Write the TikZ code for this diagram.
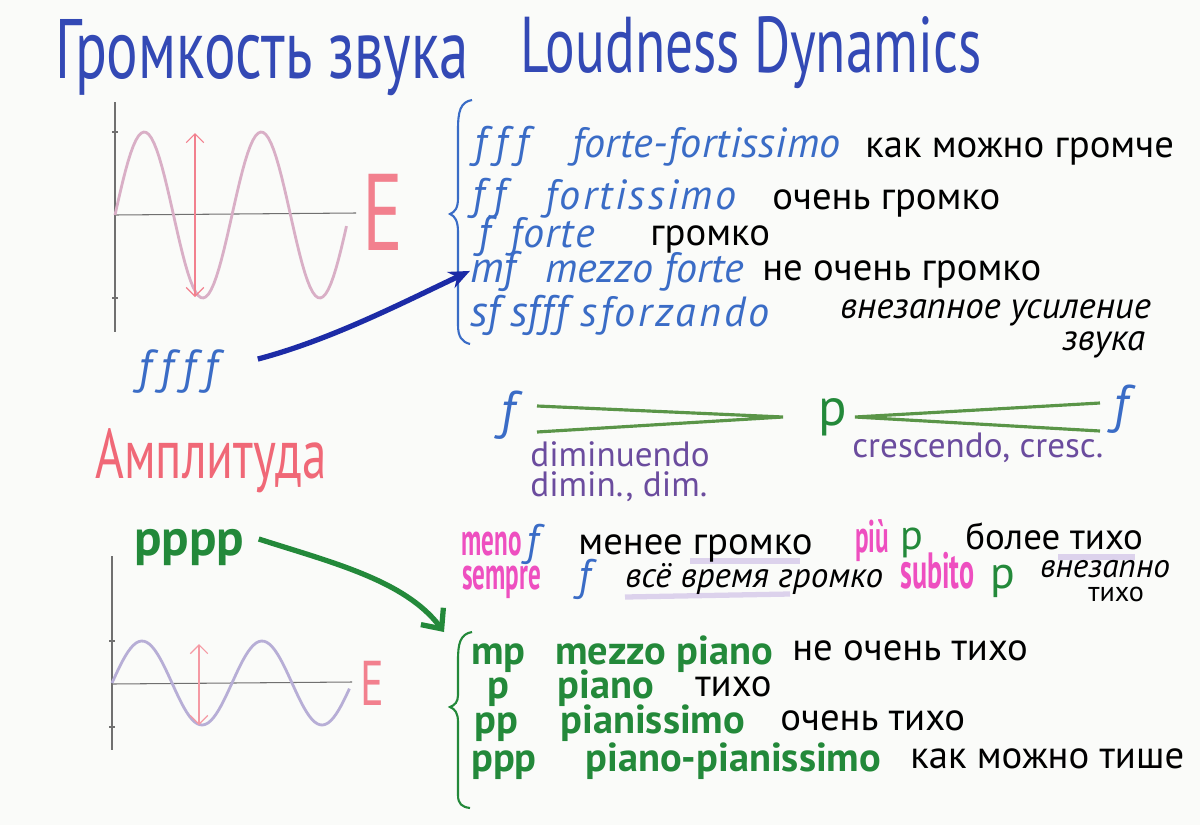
\documentclass[tikz,border=0pt]{standalone}
\usepackage{fontspec}
\setmainfont{PT Sans}
\newfontfamily\headfont{PT Sans}[FakeStretch=0.7]
\newfontfamily\magfont{PT Sans}[FakeStretch=0.55]
\usetikzlibrary{arrows.meta,positioning}

\definecolor{paper}{HTML}{FAFBF9}
\definecolor{inkblue}{HTML}{3349B5}
\definecolor{fblue}{HTML}{3A6CC6}
\definecolor{arrowblue}{HTML}{1C2BA6}
\definecolor{rosy}{HTML}{F2808E}
\definecolor{redpink}{HTML}{F06877}
\definecolor{inkgreen}{HTML}{23893A}
\definecolor{hairgreen}{HTML}{5A9548}
\definecolor{violet}{HTML}{6B4C9E}
\definecolor{mag}{HTML}{EE4FC0}
\definecolor{axisgray}{HTML}{707070}
\definecolor{wavepink}{HTML}{D9AFC6}
\definecolor{wavelilac}{HTML}{B7AED6}
\definecolor{lilac}{HTML}{C9B8E4}

% spaced f's
\newcommand\fsp{\kern5pt}

\tikzset{
  txt/.style={anchor=base west, inner sep=0pt, text=black, font=\fontsize{22}{24}\selectfont},
  fterm/.style={txt, text=fblue, font=\fontsize{24}{26}\selectfont\itshape\addfontfeature{LetterSpace=#1}},
  fterm/.default=0,
  fsign/.style={txt, text=fblue, font=\fontsize{25}{27}\selectfont\itshape},
  pterm/.style={txt, text=inkgreen, font=\fontsize{23}{25}\selectfont\bfseries},
  ital/.style={txt, text=mag, font=\magfont\fontsize{26}{28}\selectfont\bfseries},
  violetnote/.style={txt, text=violet, font=\fontsize{20}{22}\selectfont},
  axis/.style={axisgray, line width=0.6pt},
}

\begin{document}
\begin{tikzpicture}[x=0.02cm,y=-0.02cm]
\fill[paper] (0,0) rectangle (1200,825);
\useasboundingbox (0,0) rectangle (1200,825);

% title
\node[txt, text=inkblue, font=\headfont\fontsize{48}{50}\selectfont] (title) at (55,78) {Громкость звука};
\node[txt, text=inkblue, font=\headfont\fontsize{45}{46}\selectfont] (titleen) at (520,72) {Loudness Dynamics};

% upper graph
\draw[axis] (115,102) -- (115,332);
\draw[axis] (115,215) -- (356,213);
\draw[axis] (112,132) -- (118,132);
\draw[axis] (112,298) -- (118,298);
\draw[wavepink, line width=1.6pt] plot[domain=0:1.98, samples=90] ({115+\x*117}, {215-83*sin(\x*360)});
\draw[rosy, line width=0.7pt, {Straight Barb[length=5pt]}-{Straight Barb[length=5pt]}] (195,133) -- (195,297);
\node[txt, text=rosy, font=\headfont\fontsize{62}{62}\selectfont] (Etop) at (362,250) {E};

\node[fsign, font=\fontsize{27}{29}\selectfont\itshape] (ffff) at (138,383) {f\fsp f\fsp f\fsp f};

% lower graph
\draw[axis] (112,556) -- (112,750);
\draw[axis] (112,684) -- (352,682);
\draw[axis] (109,641) -- (115,641);
\draw[axis] (109,727) -- (115,727);
\draw[wavelilac, line width=1.6pt] plot[domain=0:1.98, samples=90] ({112+\x*120}, {683-42*sin(\x*360)});
\draw[rosy!80, line width=0.7pt, {Straight Barb[length=5pt]}-{Straight Barb[length=5pt]}] (199,644) -- (199,725);
\node[txt, text=rosy, font=\headfont\fontsize{36}{36}\selectfont] (Ebot) at (360,705) {E};

\node[txt, text=redpink, font=\headfont\fontsize{40}{42}\selectfont] (ampl) at (95,478) {Амплитуда};
\node[txt, text=inkgreen, font=\fontsize{29}{31}\selectfont\bfseries] (pppp) at (134,555) {pppp};

% forte list
\draw[fblue, line width=1.2pt] (472,100) .. controls (460,102) and (458,112) .. (458,130) -- (458,198)
  .. controls (458,208) and (455,212) .. (450,214) .. controls (455,216) and (458,221) .. (458,232)
  -- (458,325) .. controls (458,337) and (462,342) .. (470,344);
\node[fsign] (fff) at (474,157) {f\fsp f\fsp f};
\node[fterm=1] (fffname) at (572,157) {forte-fortissimo};
\node[txt] (fffru) at (865,157) {как можно громче};
\node[fsign] (ff) at (472,209) {f\fsp f};
\node[fterm=6] (ffname) at (545,209) {fortissimo};
\node[txt] (ffru) at (772,209) {очень громко};
\node[fsign] (f) at (478,247) {f};
\node[fterm=3] (fname) at (510,247) {forte};
\node[txt] (fru) at (650,245) {громко};
\node[fsign] (mf) at (470,282) {mf};
\node[fterm] (mfname) at (545,282) {mezzo forte};
\node[txt] (mfru) at (762,280) {не очень громко};
\node[fsign] (sf) at (470,326) {sf};
\node[fsign] (sfff) at (510,326) {sf\kern1pt f\kern1pt f};
\node[fterm=7] (sfname) at (580,326) {sforzando};
\node[txt, font=\fontsize{21}{23}\selectfont\itshape] (sfru) at (840,318) {внезапное усиление};
\node[txt, font=\fontsize{21}{23}\selectfont\itshape] (sfru2) at (1062,350) {звука};

\draw[arrowblue, line width=3pt, -{Stealth[length=12pt,width=10pt]}] (ffff.east) ++(40,-12) .. controls (330,340) and (400,304) .. (mf.west);

% hairpins
\node[fterm, font=\fontsize{30}{32}\selectfont\itshape] (fdim) at (500,428) {f};
\node[txt, text=inkgreen, font=\fontsize{30}{32}\selectfont] (pmid) at (818,425) {p};
\node[fterm, font=\fontsize{30}{32}\selectfont\itshape] (fcre) at (1113,422) {f};
\coordinate (dimtip) at (783,417);
\coordinate (cretip) at (855,417);
\draw[hairgreen, line width=1.8pt] (537,406) -- (dimtip) -- (537,432);
\draw[hairgreen, line width=1.8pt] (1100,403) -- (cretip) -- (1100,431);
\node[violetnote] (dimname) at (530,466) {diminuendo};
\node[violetnote] (dimabbr) at (530,496) {dimin., dim.};
\node[violetnote] (crename) at (852,457) {crescendo, cresc.};

% meno / piu / sempre / subito
\draw[lilac, opacity=0.6, line width=3pt] (690,561) -- (800,561);
\draw[lilac, opacity=0.6, line width=3pt] (1058,557) -- (1135,557);
\draw[lilac, opacity=0.6, line width=3pt] (625,597) -- (790,594);
\node[ital] (meno) at (461,555) {meno};
\node[fsign] (menof) at (526,555) {f};
\node[txt] (menoru) at (578,554) {менее громко};
\node[ital] (piu) at (855,552) {più};
\node[txt, text=inkgreen, font=\fontsize{24}{26}\selectfont] (piup) at (900,549) {p};
\node[txt, font=\fontsize{21}{23}\selectfont] (piuru) at (965,549) {более тихо};
\node[ital] (sempre) at (462,589) {sempre};
\node[fsign] (sempref) at (578,590) {f};
\node[txt, font=\fontsize{20}{22}\selectfont\itshape] (sempreru) at (625,587) {всё время громко};
\node[ital, font=\magfont\fontsize{29}{31}\selectfont\bfseries] (subito) at (900,588) {subito};
\node[txt, text=inkgreen, font=\fontsize{26}{28}\selectfont] (subitop) at (990,588) {p};
\node[txt, font=\fontsize{19}{21}\selectfont\itshape] (subitoru) at (1040,577) {внезапно};
\node[txt, font=\fontsize{16}{18}\selectfont] (subitoru2) at (1088,601) {тихо};

\draw[inkgreen, line width=3pt, -{Straight Barb[length=9pt,width=16pt]}] (pppp.east) ++(14,-8) .. controls (330,562) and (405,580) .. (444,632);

% piano list
\draw[inkgreen, line width=1.2pt] (472,632) .. controls (460,634) and (458,644) .. (458,660) -- (458,695)
  .. controls (458,702) and (455,705) .. (450,707) .. controls (455,709) and (458,713) .. (458,722)
  -- (458,795) .. controls (458,804) and (462,807) .. (470,808);
\node[pterm] (mp) at (471,664) {mp};
\node[pterm] (mpname) at (555,664) {mezzo piano};
\node[txt] (mpru) at (792,660) {не очень тихо};
\node[pterm] (p) at (487,698) {p};
\node[pterm] (pname) at (557,698) {piano};
\node[txt] (pru) at (695,696) {тихо};
\node[pterm] (pp) at (474,733) {pp};
\node[pterm] (ppname) at (560,733) {pianissimo};
\node[txt] (ppru) at (780,730) {очень тихо};
\node[pterm] (ppp) at (471,771) {ppp};
\node[pterm] (pppname) at (585,771) {piano-pianissimo};
\node[txt] (pppru) at (910,768) {как можно тише};
\end{tikzpicture}
\end{document}
